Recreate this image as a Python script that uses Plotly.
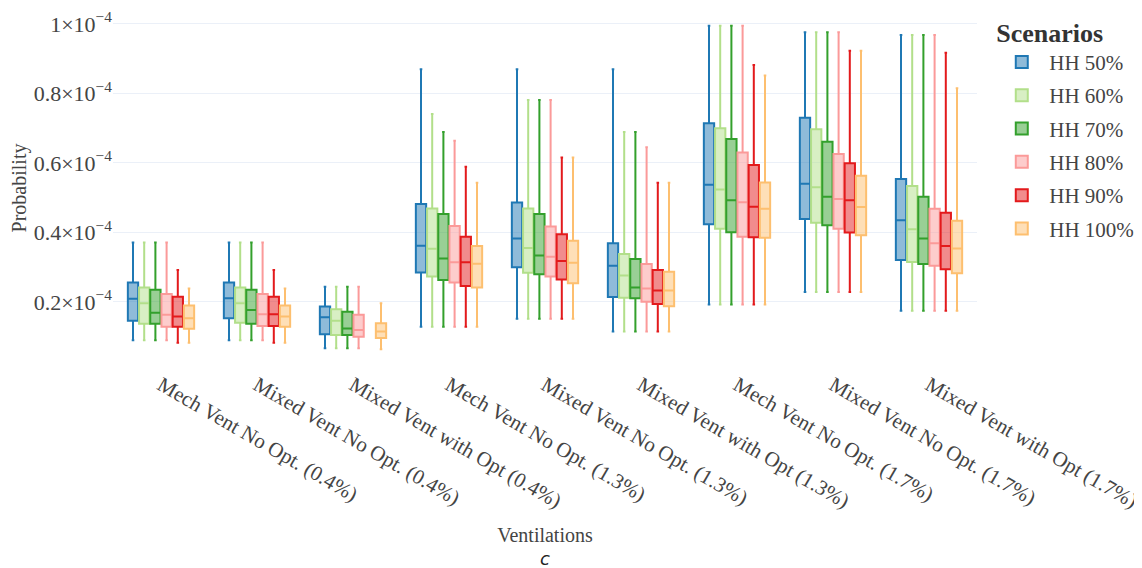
import plotly.graph_objects as go

categories = [
    "Mech Vent No Opt. (0.4%)", "Mixed Vent No Opt. (0.4%)", "Mixed Vent with Opt (0.4%)",
    "Mech Vent No Opt. (1.3%)", "Mixed Vent No Opt. (1.3%)", "Mixed Vent with Opt (1.3%)",
    "Mech Vent No Opt. (1.7%)", "Mixed Vent No Opt. (1.7%)", "Mixed Vent with Opt (1.7%)",
]
scenarios = ["HH 50%", "HH 60%", "HH 70%", "HH 80%", "HH 90%", "HH 100%"]
colors = ["#1f78b4", "#b2df8a", "#33a02c", "#fb9a99", "#e31a1c", "#fdbf6f"]

# values in units of 1e-4
lower = {
    "HH 50%":  [0.090, 0.090, 0.067, 0.129, 0.152, 0.115, 0.193, 0.229, 0.175],
    "HH 60%":  [0.090, 0.090, 0.067, 0.129, 0.152, 0.115, 0.193, 0.229, 0.175],
    "HH 70%":  [0.090, 0.090, 0.067, 0.129, 0.152, 0.115, 0.193, 0.229, 0.175],
    "HH 80%":  [0.090, 0.090, 0.067, 0.129, 0.152, 0.115, 0.193, 0.229, 0.175],
    "HH 90%":  [0.083, 0.083, None, 0.129, 0.152, 0.115, 0.193, 0.229, 0.175],
    "HH 100%": [0.083, 0.083, 0.064, 0.129, 0.152, 0.115, 0.193, 0.229, 0.175],
}
q1 = {
    "HH 50%":  [0.146, 0.153, 0.107, 0.285, 0.300, 0.214, 0.424, 0.439, 0.321],
    "HH 60%":  [0.137, 0.140, 0.105, 0.273, 0.284, 0.212, 0.411, 0.428, 0.315],
    "HH 70%":  [0.137, 0.137, 0.105, 0.263, 0.280, 0.211, 0.401, 0.421, 0.309],
    "HH 80%":  [0.129, 0.131, 0.100, 0.256, 0.273, 0.201, 0.388, 0.411, 0.304],
    "HH 90%":  [0.129, 0.131, None, 0.246, 0.265, 0.194, 0.386, 0.400, 0.294],
    "HH 100%": [0.123, 0.129, 0.096, 0.242, 0.254, 0.188, 0.385, 0.392, 0.283],
}
median = {
    "HH 50%":  [0.209, 0.211, 0.156, 0.362, 0.383, 0.304, 0.537, 0.540, 0.435],
    "HH 60%":  [0.196, 0.196, 0.146, 0.353, 0.355, 0.276, 0.524, 0.530, 0.409],
    "HH 70%":  [0.169, 0.177, 0.124, 0.325, 0.334, 0.242, 0.493, 0.503, 0.383],
    "HH 80%":  [0.163, 0.165, 0.119, 0.314, 0.330, 0.239, 0.487, 0.496, 0.369],
    "HH 90%":  [0.158, 0.165, None, 0.314, 0.318, 0.233, 0.474, 0.493, 0.361],
    "HH 100%": [0.153, 0.158, 0.115, 0.310, 0.313, 0.233, 0.468, 0.473, 0.354],
}
q3 = {
    "HH 50%":  [0.256, 0.256, 0.187, 0.482, 0.486, 0.369, 0.714, 0.730, 0.554],
    "HH 60%":  [0.242, 0.242, 0.179, 0.469, 0.469, 0.338, 0.700, 0.697, 0.534],
    "HH 70%":  [0.235, 0.235, 0.172, 0.453, 0.453, 0.324, 0.669, 0.661, 0.503],
    "HH 80%":  [0.223, 0.223, 0.163, 0.419, 0.417, 0.309, 0.630, 0.626, 0.468],
    "HH 90%":  [0.215, 0.215, None, 0.388, 0.395, 0.292, 0.594, 0.599, 0.457],
    "HH 100%": [0.190, 0.190, 0.139, 0.361, 0.376, 0.287, 0.544, 0.563, 0.434],
}
upper = {
    "HH 50%":  [0.371, 0.371, 0.244, 0.870, 0.870, 0.870, 0.995, 0.976, 0.968],
    "HH 60%":  [0.371, 0.371, 0.244, 0.741, 0.781, 0.689, 0.995, 0.976, 0.968],
    "HH 70%":  [0.371, 0.371, 0.244, 0.689, 0.781, 0.689, 0.995, 0.976, 0.968],
    "HH 80%":  [0.371, 0.371, 0.244, 0.664, 0.781, 0.645, 0.995, 0.976, 0.968],
    "HH 90%":  [0.292, 0.292, None, 0.589, 0.616, 0.543, 0.882, 0.923, 0.917],
    "HH 100%": [0.239, 0.239, 0.196, 0.543, 0.616, 0.543, 0.852, 0.923, 0.815],
}
scale = 1e-4

FONT = "Liberation Serif, Times New Roman, serif"

fig = go.Figure()
for name, col in zip(scenarios, colors):
    idx = [i for i in range(len(categories)) if median[name][i] is not None]
    fig.add_trace(go.Box(
        name=name,
        legendgroup=name,
        x=[categories[i] for i in idx],
        lowerfence=[lower[name][i] * scale for i in idx],
        q1=[q1[name][i] * scale for i in idx],
        median=[median[name][i] * scale for i in idx],
        q3=[q3[name][i] * scale for i in idx],
        upperfence=[upper[name][i] * scale for i in idx],
        boxpoints=False,
        marker_color=col,
        line=dict(color=col, width=2),
        whiskerwidth=0.25,
    ))

fig.update_layout(
    template="plotly_white",
    width=1142, height=568,
    margin=dict(l=105, r=173, t=0, b=208),
    boxmode="group",
    boxgap=0.3,
    boxgroupgap=0.08,
    font=dict(family=FONT, size=20, color="#444"),
    legend=dict(
        title=dict(text="<b>Scenarios</b>", font=dict(size=26, color="#333")),
        font=dict(size=21),
        x=1.02, y=1.0, yanchor="top",
        tracegroupgap=3,
        itemwidth=45,
    ),
    xaxis=dict(
        title=dict(text="Ventilations", font=dict(size=20)),
        tickangle=30,
        tickfont=dict(size=21),
        categoryorder="array", categoryarray=categories,
    ),
    yaxis=dict(
        title=dict(text="Probability", font=dict(size=20), standoff=4),
        range=[0.010e-4, 1.046e-4],
        tick0=0, dtick=0.2e-4,
        tickfont=dict(size=22),
        exponentformat="power",
        showexponent="all",
        zeroline=False,
    ),
    annotations=[dict(
        text="<i>c</i>", xref="paper", yref="paper", x=0.5, y=0, yshift=-203,
        showarrow=False, xanchor="center", yanchor="bottom",
        font=dict(family="DejaVu Sans, sans-serif", size=18, color="#222"),
    )],
)

fig.write_html("out.html")
